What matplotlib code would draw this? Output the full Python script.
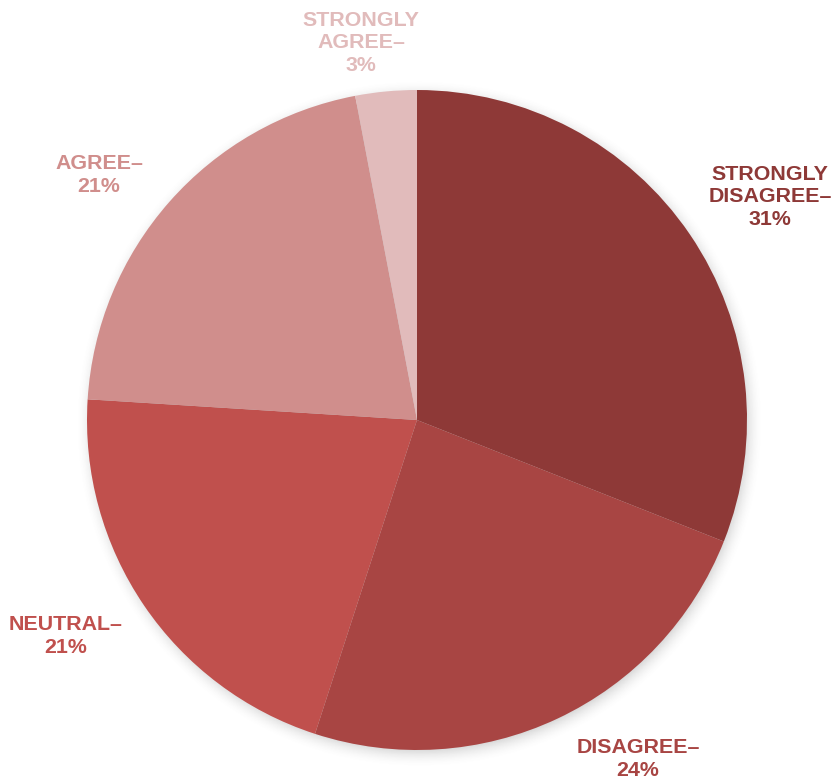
import matplotlib.pyplot as plt
import numpy as np

plt.rcParams['font.family'] = ['Liberation Sans', 'DejaVu Sans']

categories = ['STRONGLY\nDISAGREE–', 'DISAGREE–', 'NEUTRAL–', 'AGREE–', 'STRONGLY\nAGREE–']
values = [31, 24, 21, 21, 3]
colors = ['#8E3937', '#A84543', '#C0504D', '#D08E8C', '#E1BBBB']

# label placement: angle (deg) and distance from centre in pie radii
label_angles = [32.3, -56.9, -148.4, 142.4, 98.4]
label_dists = [1.265, 1.226, 1.25, 1.216, 1.155]

fig = plt.figure(figsize=(8.37, 7.79), dpi=100)
ax = fig.add_axes([0, 0, 1, 1])

# soft shadow behind the pie
n = 600
xs = np.linspace(-1.25, 1.25, n)
X, Y = np.meshgrid(xs, xs)
d = np.hypot(X - 0.006, Y + 0.012)
alpha = np.clip((1.045 - d) / 0.07, 0, 1) ** 2 * 0.35
shadow = np.zeros((n, n, 4))
shadow[..., :3] = 0.35
shadow[..., 3] = alpha
ax.imshow(shadow, extent=(-1.25, 1.25, -1.25, 1.25), origin='lower', zorder=0)

wedges, _ = ax.pie(values, colors=colors, startangle=90, counterclock=False,
                   radius=1, wedgeprops=dict(linewidth=0))
for w in wedges:
    w.set_zorder(2)

for lab, v, c, a, r in zip(categories, values, colors, label_angles, label_dists):
    t = np.deg2rad(a)
    ax.text(r * np.cos(t), r * np.sin(t), '{}\n{}%'.format(lab, v),
            ha='center', va='center', color=c, fontsize=15.4,
            fontweight='bold', linespacing=1.25, zorder=3)

ax.set_xlim(-417 / 330, (837 - 417) / 330)
ax.set_ylim(-(779 - 420) / 330, 420 / 330)
ax.set_aspect('equal')
ax.axis('off')

plt.savefig('out.png', dpi=100)
